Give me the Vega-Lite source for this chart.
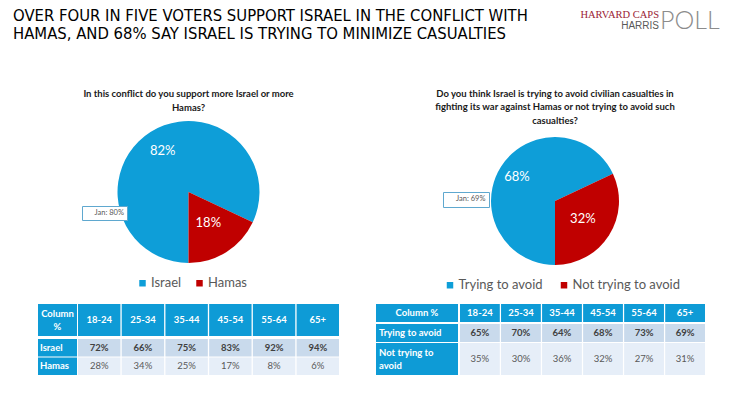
{
  "$schema": "https://vega.github.io/schema/vega-lite/v6.json",
  "background": "white",
  "padding": {"left": 13, "top": 7, "right": 0, "bottom": 0},
  "spacing": 37,
  "config": {"view": {"stroke": null}, "font": "Lato", "text": {"font": "Lato"}},
  "resolve": {"scale": {"color": "independent", "shape": "independent"}, "legend": {"color": "independent", "shape": "independent"}},
  "title": {
    "text": ["OVER FOUR IN FIVE VOTERS SUPPORT ISRAEL IN THE CONFLICT WITH", "HAMAS, AND 68% SAY ISRAEL IS TRYING TO MINIMIZE CASUALTIES"],
    "frame": "group", "anchor": "start", "align": "left", "dx": -25, "offset": -33.25,
    "fontSize": 16.5, "font": "DejaVu Sans Condensed, sans-serif", "fontWeight": "normal", "color": "#000000", "lineHeight": 18
  },
  "datasets": {
    "pie1": [{"side": "Israel", "pct": 0.82}, {"side": "Hamas", "pct": 0.18}],
    "pie2": [{"side": "Trying to avoid", "pct": 0.68}, {"side": "Not trying to avoid", "pct": 0.32}],
    "t1": [
      {"row": "Israel", "age": "18-24", "pct": 0.72}, {"row": "Israel", "age": "25-34", "pct": 0.66}, {"row": "Israel", "age": "35-44", "pct": 0.75},
      {"row": "Israel", "age": "45-54", "pct": 0.83}, {"row": "Israel", "age": "55-64", "pct": 0.92}, {"row": "Israel", "age": "65+", "pct": 0.94},
      {"row": "Hamas", "age": "18-24", "pct": 0.28}, {"row": "Hamas", "age": "25-34", "pct": 0.34}, {"row": "Hamas", "age": "35-44", "pct": 0.25},
      {"row": "Hamas", "age": "45-54", "pct": 0.17}, {"row": "Hamas", "age": "55-64", "pct": 0.08}, {"row": "Hamas", "age": "65+", "pct": 0.06}
    ],
    "t2": [
      {"row": "Trying to avoid", "age": "18-24", "pct": 0.65}, {"row": "Trying to avoid", "age": "25-34", "pct": 0.70}, {"row": "Trying to avoid", "age": "35-44", "pct": 0.64},
      {"row": "Trying to avoid", "age": "45-54", "pct": 0.68}, {"row": "Trying to avoid", "age": "55-64", "pct": 0.73}, {"row": "Trying to avoid", "age": "65+", "pct": 0.69},
      {"row": "Not trying to avoid", "age": "18-24", "pct": 0.35}, {"row": "Not trying to avoid", "age": "25-34", "pct": 0.30}, {"row": "Not trying to avoid", "age": "35-44", "pct": 0.36},
      {"row": "Not trying to avoid", "age": "45-54", "pct": 0.32}, {"row": "Not trying to avoid", "age": "55-64", "pct": 0.27}, {"row": "Not trying to avoid", "age": "65+", "pct": 0.31}
    ],
    "t2rows": [{"row": "Trying to avoid", "label": "Trying to avoid"}, {"row": "Not trying to avoid", "label": "Not trying to\navoid"}]
  },
  "hconcat": [
    {
      "spacing": 41,
      "vconcat": [
        {
          "width": 301, "height": 110,
          "title": {"text": ["In this conflict do you support more Israel or more", "Hamas?"], "frame": "group", "anchor": "middle", "fontSize": 9.5, "fontWeight": "bold", "font": "Lato", "color": "#1a1a1a", "lineHeight": 14, "offset": 9},
          "data": {"name": "pie1"},
          "layer": [
            {
              "mark": {"type": "arc", "outerRadius": 71},
              "encoding": {
                "theta": {"field": "pct", "type": "quantitative", "stack": true, "scale": {"range": [3.141592653589793, 9.42477796076938]}},
                "order": {"field": "pct", "type": "quantitative", "sort": "descending"},
                "color": {"field": "side", "type": "nominal", "sort": null, "scale": {"range": ["#0E9ED8", "#C00000"]},
                  "legend": {"orient": "none", "legendX": 98, "legendY": 139.5, "direction": "horizontal", "title": null, "symbolType": "square", "symbolSize": 42, "symbolStrokeWidth": 0, "labelFont": "Lato", "labelFontSize": 13, "labelColor": "#595959", "columnPadding": 11, "labelOffset": 2, "padding": 0}}
              }
            },
            {
              "mark": {"type": "text", "fontSize": 13, "color": "white", "font": "Lato"},
              "encoding": {
                "theta": {"field": "pct", "type": "quantitative", "stack": true},
                "order": {"field": "pct", "type": "quantitative", "sort": "descending"},
                "detail": {"field": "side", "type": "nominal"},
                "radius": {"field": "pct", "type": "quantitative", "scale": {"type": "linear", "zero": false, "range": [37, 48]}},
                "text": {"field": "pct", "type": "quantitative", "format": ".0%"}
              }
            },
            {
              "data": {"values": [{"note": "Jan: 80%"}]},
              "mark": {"type": "point", "size": 0, "opacity": 0},
              "encoding": {
                "shape": {"field": "note", "type": "nominal",
                  "legend": {"orient": "none", "legendX": 44, "legendY": 69, "title": null, "symbolSize": 0, "symbolOpacity": 0, "symbolStrokeWidth": 0, "labelOffset": 2, "padding": 3, "strokeColor": "#5FA8CF", "fillColor": "white", "labelFont": "Lato", "labelFontSize": 7.5, "labelColor": "#595959", "labelExpr": "datum.label + '\u00a0\u00a0\u00a0\u00a0\u00a0\u00a0\u00a0\u00a0\u00a0\u00a0\u00a0\u00a0\u00a0\u00a0\u00a0\u00a0'"}}
              }
            }
          ]
        },
        {
          "spacing": 3,
          "vconcat": [
            {
              "spacing": 1,
              "hconcat": [
                {
                  "width": 39, "height": 32,
                  "data": {"values": [{"h": "Column %"}]},
                  "layer": [
                    {"mark": {"type": "rect", "color": "#0E9BD6"}, "encoding": {}},
                    {"mark": {"type": "text", "color": "white", "fontWeight": "bold", "fontSize": 9.5, "lineBreak": " ", "lineHeight": 13, "dy": -6.5}, "encoding": {"text": {"field": "h"}}}
                  ]
                },
                {
                  "width": 261, "height": 32,
                  "data": {"name": "t1"},
                  "transform": [{"filter": "datum.row === 'Israel'"}],
                  "encoding": {"x": {"field": "age", "type": "nominal", "axis": null, "scale": {"paddingInner": 0.03, "paddingOuter": 0}}},
                  "layer": [
                    {"mark": {"type": "rect", "color": "#0E9BD6"}},
                    {"mark": {"type": "text", "color": "white", "fontWeight": "bold", "fontSize": 9.5}, "encoding": {"text": {"field": "age"}}}
                  ]
                }
              ]
            },
            {
              "spacing": 1,
              "hconcat": [
                {
                  "width": 39, "height": 36,
                  "data": {"name": "t1"},
                  "transform": [{"aggregate": [{"op": "count", "as": "n"}], "groupby": ["row"]}],
                  "encoding": {"y": {"field": "row", "type": "nominal", "sort": ["Israel", "Hamas"], "axis": null, "scale": {"paddingInner": 0.05, "paddingOuter": 0}}},
                  "layer": [
                    {"mark": {"type": "rect", "color": "#0E9BD6"}},
                    {"mark": {"type": "text", "color": "white", "fontWeight": "bold", "fontSize": 9.5, "align": "left", "dx": 2},
                      "encoding": {"x": {"datum": "row label", "type": "nominal", "bandPosition": 0, "axis": null, "scale": {"type": "band", "paddingInner": 0, "paddingOuter": 0}}, "text": {"field": "row"}}}
                  ]
                },
                {
                  "width": 261, "height": 36,
                  "data": {"name": "t1"},
                  "encoding": {
                    "x": {"field": "age", "type": "nominal", "axis": null, "scale": {"paddingInner": 0.03, "paddingOuter": 0}},
                    "y": {"field": "row", "type": "nominal", "sort": ["Israel", "Hamas"], "axis": null, "scale": {"paddingInner": 0.05, "paddingOuter": 0}}
                  },
                  "layer": [
                    {"transform": [{"filter": "datum.row === 'Israel'"}], "mark": {"type": "rect", "color": "#C9DAEC"}},
                    {"transform": [{"filter": "datum.row === 'Hamas'"}], "mark": {"type": "rect", "color": "#E6EEF8"}},
                    {"transform": [{"filter": "datum.row === 'Israel'"}], "mark": {"type": "text", "color": "#404040", "fontWeight": "bold", "fontSize": 9.5}, "encoding": {"text": {"field": "pct", "type": "quantitative", "format": ".0%"}}},
                    {"transform": [{"filter": "datum.row === 'Hamas'"}], "mark": {"type": "text", "color": "#595959", "fontSize": 9.5}, "encoding": {"text": {"field": "pct", "type": "quantitative", "format": ".0%"}}}
                  ]
                }
              ]
            }
          ]
        }
      ]
    },
    {
      "title": {"text": "POLL", "frame": "group", "anchor": "start", "align": "left", "dx": 284, "offset": -24.6, "fontSize": 25, "font": "Lato", "fontWeight": 300, "color": "#8c8c8c"},
      "vconcat": [
        {
          "title": {"text": "HARVARD CAPS", "subtitle": "HARRIS", "frame": "group", "anchor": "start", "align": "right", "dx": 283, "offset": 57.5,
            "fontSize": 10.5, "font": "Liberation Serif", "fontWeight": "normal", "color": "#9B2335",
            "subtitleFont": "Liberation Sans", "subtitleFontSize": 10, "subtitleColor": "#595959", "subtitlePadding": 1},
          "spacing": 39,
          "vconcat": [
            {
              "width": 358, "height": 128,
              "title": {"text": ["Do you think Israel is trying to avoid civilian casualties in", "fighting its war against Hamas or not trying to avoid such", "casualties?"], "frame": "group", "anchor": "middle", "fontSize": 9.5, "fontWeight": "bold", "font": "Lato", "color": "#1a1a1a", "lineHeight": 13.5, "offset": 12},
              "data": {"name": "pie2"},
              "layer": [
                {
                  "mark": {"type": "arc", "outerRadius": 64},
                  "encoding": {
                    "theta": {"field": "pct", "type": "quantitative", "stack": true, "scale": {"range": [3.141592653589793, 9.42477796076938]}},
                    "order": {"field": "pct", "type": "quantitative", "sort": "descending"},
                    "color": {"field": "side", "type": "nominal", "sort": null, "scale": {"range": ["#0E9ED8", "#C00000"]},
                      "legend": {"orient": "none", "legendX": 67.5, "legendY": 141.5, "direction": "horizontal", "title": null, "symbolType": "square", "symbolSize": 42, "symbolStrokeWidth": 0, "labelFont": "Lato", "labelFontSize": 13, "labelColor": "#595959", "columnPadding": 14, "labelOffset": 2, "padding": 0}}
                  }
                },
                {
                  "mark": {"type": "text", "fontSize": 13, "color": "white", "font": "Lato"},
                  "encoding": {
                    "theta": {"field": "pct", "type": "quantitative", "stack": true},
                    "order": {"field": "pct", "type": "quantitative", "sort": "descending"},
                    "detail": {"field": "side", "type": "nominal"},
                    "radius": {"field": "pct", "type": "quantitative", "scale": {"type": "linear", "zero": false, "range": [33, 45]}},
                    "text": {"field": "pct", "type": "quantitative", "format": ".0%"}
                  }
                },
                {
                  "data": {"values": [{"note": "Jan: 69%"}]},
                  "mark": {"type": "point", "size": 0, "opacity": 0},
                  "encoding": {
                    "shape": {"field": "note", "type": "nominal",
                      "legend": {"orient": "none", "legendX": 67, "legendY": 55, "title": null, "symbolSize": 0, "symbolOpacity": 0, "symbolStrokeWidth": 0, "labelOffset": 2, "padding": 3.5, "strokeColor": "#5FA8CF", "fillColor": "white", "labelFont": "Lato", "labelFontSize": 7.5, "labelColor": "#595959", "labelExpr": "datum.label + '\u00a0\u00a0\u00a0\u00a0\u00a0\u00a0\u00a0\u00a0\u00a0\u00a0\u00a0\u00a0\u00a0\u00a0\u00a0'"}}
                  }
                }
              ]
            },
            {
              "spacing": 2,
              "vconcat": [
                {
                  "spacing": 1,
                  "hconcat": [
                    {
                      "width": 82, "height": 18,
                      "data": {"values": [{"h": "Column %"}]},
                      "layer": [
                        {"mark": {"type": "rect", "color": "#0E9BD6"}, "encoding": {}},
                        {"mark": {"type": "text", "color": "white", "fontWeight": "bold", "fontSize": 9.5}, "encoding": {"text": {"field": "h"}}}
                      ]
                    },
                    {
                      "width": 245, "height": 18,
                      "data": {"name": "t2"},
                      "transform": [{"filter": "datum.row === 'Trying to avoid'"}],
                      "encoding": {"x": {"field": "age", "type": "nominal", "axis": null, "scale": {"paddingInner": 0.03, "paddingOuter": 0}}},
                      "layer": [
                        {"mark": {"type": "rect", "color": "#0E9BD6"}},
                        {"mark": {"type": "text", "color": "white", "fontWeight": "bold", "fontSize": 9.5}, "encoding": {"text": {"field": "age"}}}
                      ]
                    }
                  ]
                },
                {
                  "spacing": 1,
                  "vconcat": [
                    {
                      "spacing": 1,
                      "hconcat": [
                        {
                          "width": 82, "height": 18,
                          "data": {"name": "t2rows"},
                          "transform": [{"filter": "datum.row === 'Trying to avoid'"}],
                          "layer": [
                            {"mark": {"type": "rect", "color": "#0E9BD6"}, "encoding": {}},
                            {"mark": {"type": "text", "color": "white", "fontWeight": "bold", "fontSize": 9.5, "align": "left", "dx": 3},
                              "encoding": {"x": {"datum": "row label", "type": "nominal", "bandPosition": 0, "axis": null, "scale": {"type": "band", "paddingInner": 0, "paddingOuter": 0}}, "text": {"field": "label"}}}
                          ]
                        },
                        {
                          "width": 245, "height": 18,
                          "data": {"name": "t2"},
                          "transform": [{"filter": "datum.row === 'Trying to avoid'"}],
                          "encoding": {"x": {"field": "age", "type": "nominal", "axis": null, "scale": {"paddingInner": 0.03, "paddingOuter": 0}}},
                          "layer": [
                            {"mark": {"type": "rect", "color": "#C9DAEC"}},
                            {"mark": {"type": "text", "color": "#404040", "fontWeight": "bold", "fontSize": 9.5}, "encoding": {"text": {"field": "pct", "type": "quantitative", "format": ".0%"}}}
                          ]
                        }
                      ]
                    },
                    {
                      "spacing": 1,
                      "hconcat": [
                        {
                          "width": 82, "height": 32,
                          "data": {"name": "t2rows"},
                          "transform": [{"filter": "datum.row === 'Not trying to avoid'"}],
                          "layer": [
                            {"mark": {"type": "rect", "color": "#0E9BD6"}, "encoding": {}},
                            {"mark": {"type": "text", "color": "white", "fontWeight": "bold", "fontSize": 9.5, "align": "left", "dx": 3, "dy": -6.5, "lineBreak": "\n", "lineHeight": 13},
                              "encoding": {"x": {"datum": "row label", "type": "nominal", "bandPosition": 0, "axis": null, "scale": {"type": "band", "paddingInner": 0, "paddingOuter": 0}}, "text": {"field": "label"}}}
                          ]
                        },
                        {
                          "width": 245, "height": 32,
                          "data": {"name": "t2"},
                          "transform": [{"filter": "datum.row === 'Not trying to avoid'"}],
                          "encoding": {"x": {"field": "age", "type": "nominal", "axis": null, "scale": {"paddingInner": 0.03, "paddingOuter": 0}}},
                          "layer": [
                            {"mark": {"type": "rect", "color": "#E6EEF8"}},
                            {"mark": {"type": "text", "color": "#595959", "fontSize": 9.5}, "encoding": {"text": {"field": "pct", "type": "quantitative", "format": ".0%"}}}
                          ]
                        }
                      ]
                    }
                  ]
                }
              ]
            }
          ]
        }
      ]
    }
  ]
}
